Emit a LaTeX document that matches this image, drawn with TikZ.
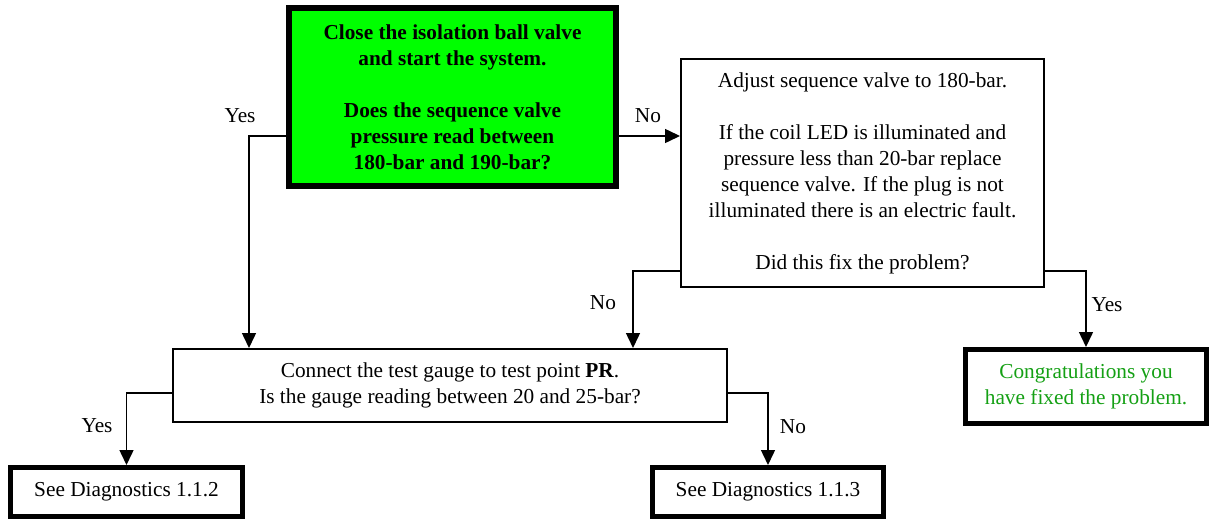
\documentclass[tikz,border=0pt]{standalone}
\usepackage{fontspec}
\setmainfont{Liberation Serif}
\usetikzlibrary{arrows.meta}
\definecolor{boxgreen}{RGB}{0,255,0}
\definecolor{txtgreen}{RGB}{20,160,20}
\tikzset{
  txt/.style={font=\fontsize{21.3}{26}\selectfont, align=center, inner sep=0pt},
  thinbox/.style={txt, draw, line width=2pt, fill=white},
  thickbox/.style={txt, draw, line width=5pt, fill=white},
  lbl/.style={font=\fontsize{21.3}{26}\selectfont, inner sep=0pt},
  arr/.style={line width=1.5pt, -{Triangle[length=15pt,width=14pt]}},
  ln/.style={line width=1.5pt}
}
\begin{document}
\begin{tikzpicture}[x=1pt,y=-1pt]
\useasboundingbox (0,0) rectangle (1210,519);
\node[txt, draw, line width=6pt, fill=boxgreen, minimum width=327pt, minimum height=178pt, font=\fontsize{21.3}{26}\selectfont\bfseries] (green) at (452.5,97)
  {Close the isolation ball valve\\and start the system.\\[26pt]Does the sequence valve\\pressure read between\\180-bar and 190-bar?};
\node[thinbox, minimum width=363pt, minimum height=228pt] (adj) at (862.5,173)
  {Adjust sequence valve to 180-bar.\\[26pt]If the coil LED is illuminated and\\pressure less than 20-bar replace\\sequence valve. If the plug is not\\illuminated there is an electric fault.\\[26pt]Did this fix the problem?};
\node[thinbox, minimum width=554pt, minimum height=73pt] (conn) at (450,385.5)
  {Connect the test gauge to test point \textbf{PR}.\\Is the gauge reading between 20 and 25-bar?};
\node[thickbox, minimum width=241pt, minimum height=74pt, text=txtgreen] (congr) at (1086,386.5)
  {Congratulations you\\have fixed the problem.};
\node[thickbox, minimum width=232pt, minimum height=49pt] (d1) at (126.5,492) {See Diagnostics 1.1.2};
\node[thickbox, minimum width=231pt, minimum height=49pt] (d2) at (768,492) {See Diagnostics 1.1.3};

\coordinate (y1) at (249,136);
\coordinate (n1) at (650,136);
\coordinate (n2) at (633,271);
\coordinate (y2) at (1086,271);
\coordinate (y3) at (126.5,393);
\coordinate (n3) at (768,393);

\draw[arr] (green.west |- y1) -- (y1) -- (conn.north -| y1);
\draw[arr] (green.east |- n1) -- (adj.west |- n1);
\draw[arr] (adj.west |- n2) -- (n2) -- (conn.north -| n2);
\draw[arr] (adj.east |- y2) -- (y2) -- (congr.north);
\draw[arr] (conn.west |- y3) -- (y3) -- (d1.north);
\draw[arr] (conn.east |- n3) -- (n3) -- (d2.north);

\node[lbl] (l1) at (240,116) {Yes};
\node[lbl] (l2) at (648,116) {No};
\node[lbl] (l3) at (603,303) {No};
\node[lbl] (l4) at (1107,305) {Yes};
\node[lbl] (l5) at (97,426) {Yes};
\node[lbl] (l6) at (793,427) {No};
\end{tikzpicture}
\end{document}
